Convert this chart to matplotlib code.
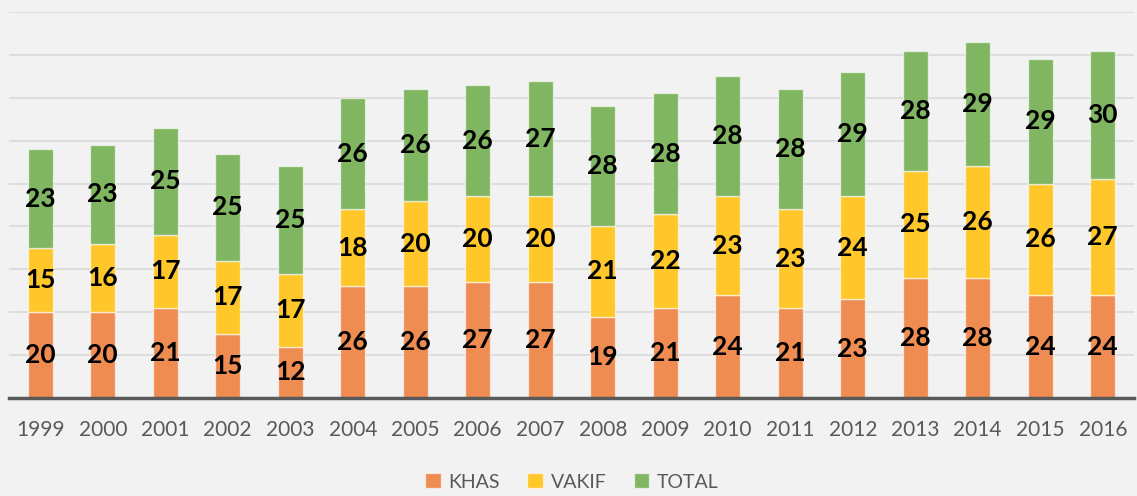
import matplotlib
matplotlib.use("Agg")
import matplotlib.pyplot as plt
import numpy as np
from matplotlib.patches import Patch

years = ["1999", "2000", "2001", "2002", "2003", "2004", "2005", "2006", "2007",
         "2008", "2009", "2010", "2011", "2012", "2013", "2014", "2015", "2016"]
khas = [20, 20, 21, 15, 12, 26, 26, 27, 27, 19, 21, 24, 21, 23, 28, 28, 24, 24]
vakif = [15, 16, 17, 17, 17, 18, 20, 20, 20, 21, 22, 23, 23, 24, 25, 26, 26, 27]
total = [23, 23, 25, 25, 25, 26, 26, 26, 27, 28, 28, 28, 28, 29, 28, 29, 29, 30]

series = [("KHAS", khas, "#EE8C52"), ("VAKIF", vakif, "#FFC72A"), ("TOTAL", total, "#80B562")]

bg = "#F2F2F2"
fig = plt.figure(figsize=(11.37, 4.96), dpi=100, facecolor=bg)
W, H = 1137, 496
ax = fig.add_axes([9 / W, 1 - 398 / H, (1134 - 9) / W, (398 - 12) / H])
ax.set_facecolor(bg)

x = np.arange(len(years))
bottom = np.zeros(len(years))
for name, vals, col in series:
    vals = np.array(vals, dtype=float)
    ax.bar(x, vals, 0.4, bottom=bottom, color=col, edgecolor=(1, 1, 1, 0.6),
           linewidth=1.0, zorder=3, label=name)
    for xi, b, v in zip(x, bottom, vals):
        ax.text(xi, b + v / 2, f"{int(v)}", ha="center", va="center",
                fontsize=19, fontweight="bold", family="Lato", color="black", zorder=4)
    bottom += vals

ax.set_xlim(-0.5, len(years) - 0.5)
ax.set_ylim(0, 90)
ax.set_yticks(np.arange(10, 91, 10))
ax.yaxis.grid(True, color="#D9D9D9", linewidth=1.2, zorder=0)
ax.tick_params(axis="y", left=False, labelleft=False)
ax.tick_params(axis="x", length=0, pad=16, labelsize=15, labelcolor="#595959")
ax.set_xticks(x)
ax.set_xticklabels(years, family="Lato")
for s in ["top", "right", "left"]:
    ax.spines[s].set_visible(False)
ax.spines["bottom"].set_color("#595959")
ax.spines["bottom"].set_linewidth(2.5)
ax.spines["bottom"].set_zorder(5)

handles = [Patch(facecolor=c, edgecolor=(1, 1, 1, 0.6), label=n) for n, _, c in series]
leg = fig.legend(handles=handles, loc="center", bbox_to_anchor=(572 / W, 1 - 482 / H),
                 ncol=3, frameon=False, handlelength=0.8, handleheight=0.8,
                 handletextpad=0.4, columnspacing=1.4,
                 prop={"family": "Lato", "size": 14})
for t in leg.get_texts():
    t.set_color("#595959")

fig.savefig("out.png", dpi=100, facecolor=bg)
